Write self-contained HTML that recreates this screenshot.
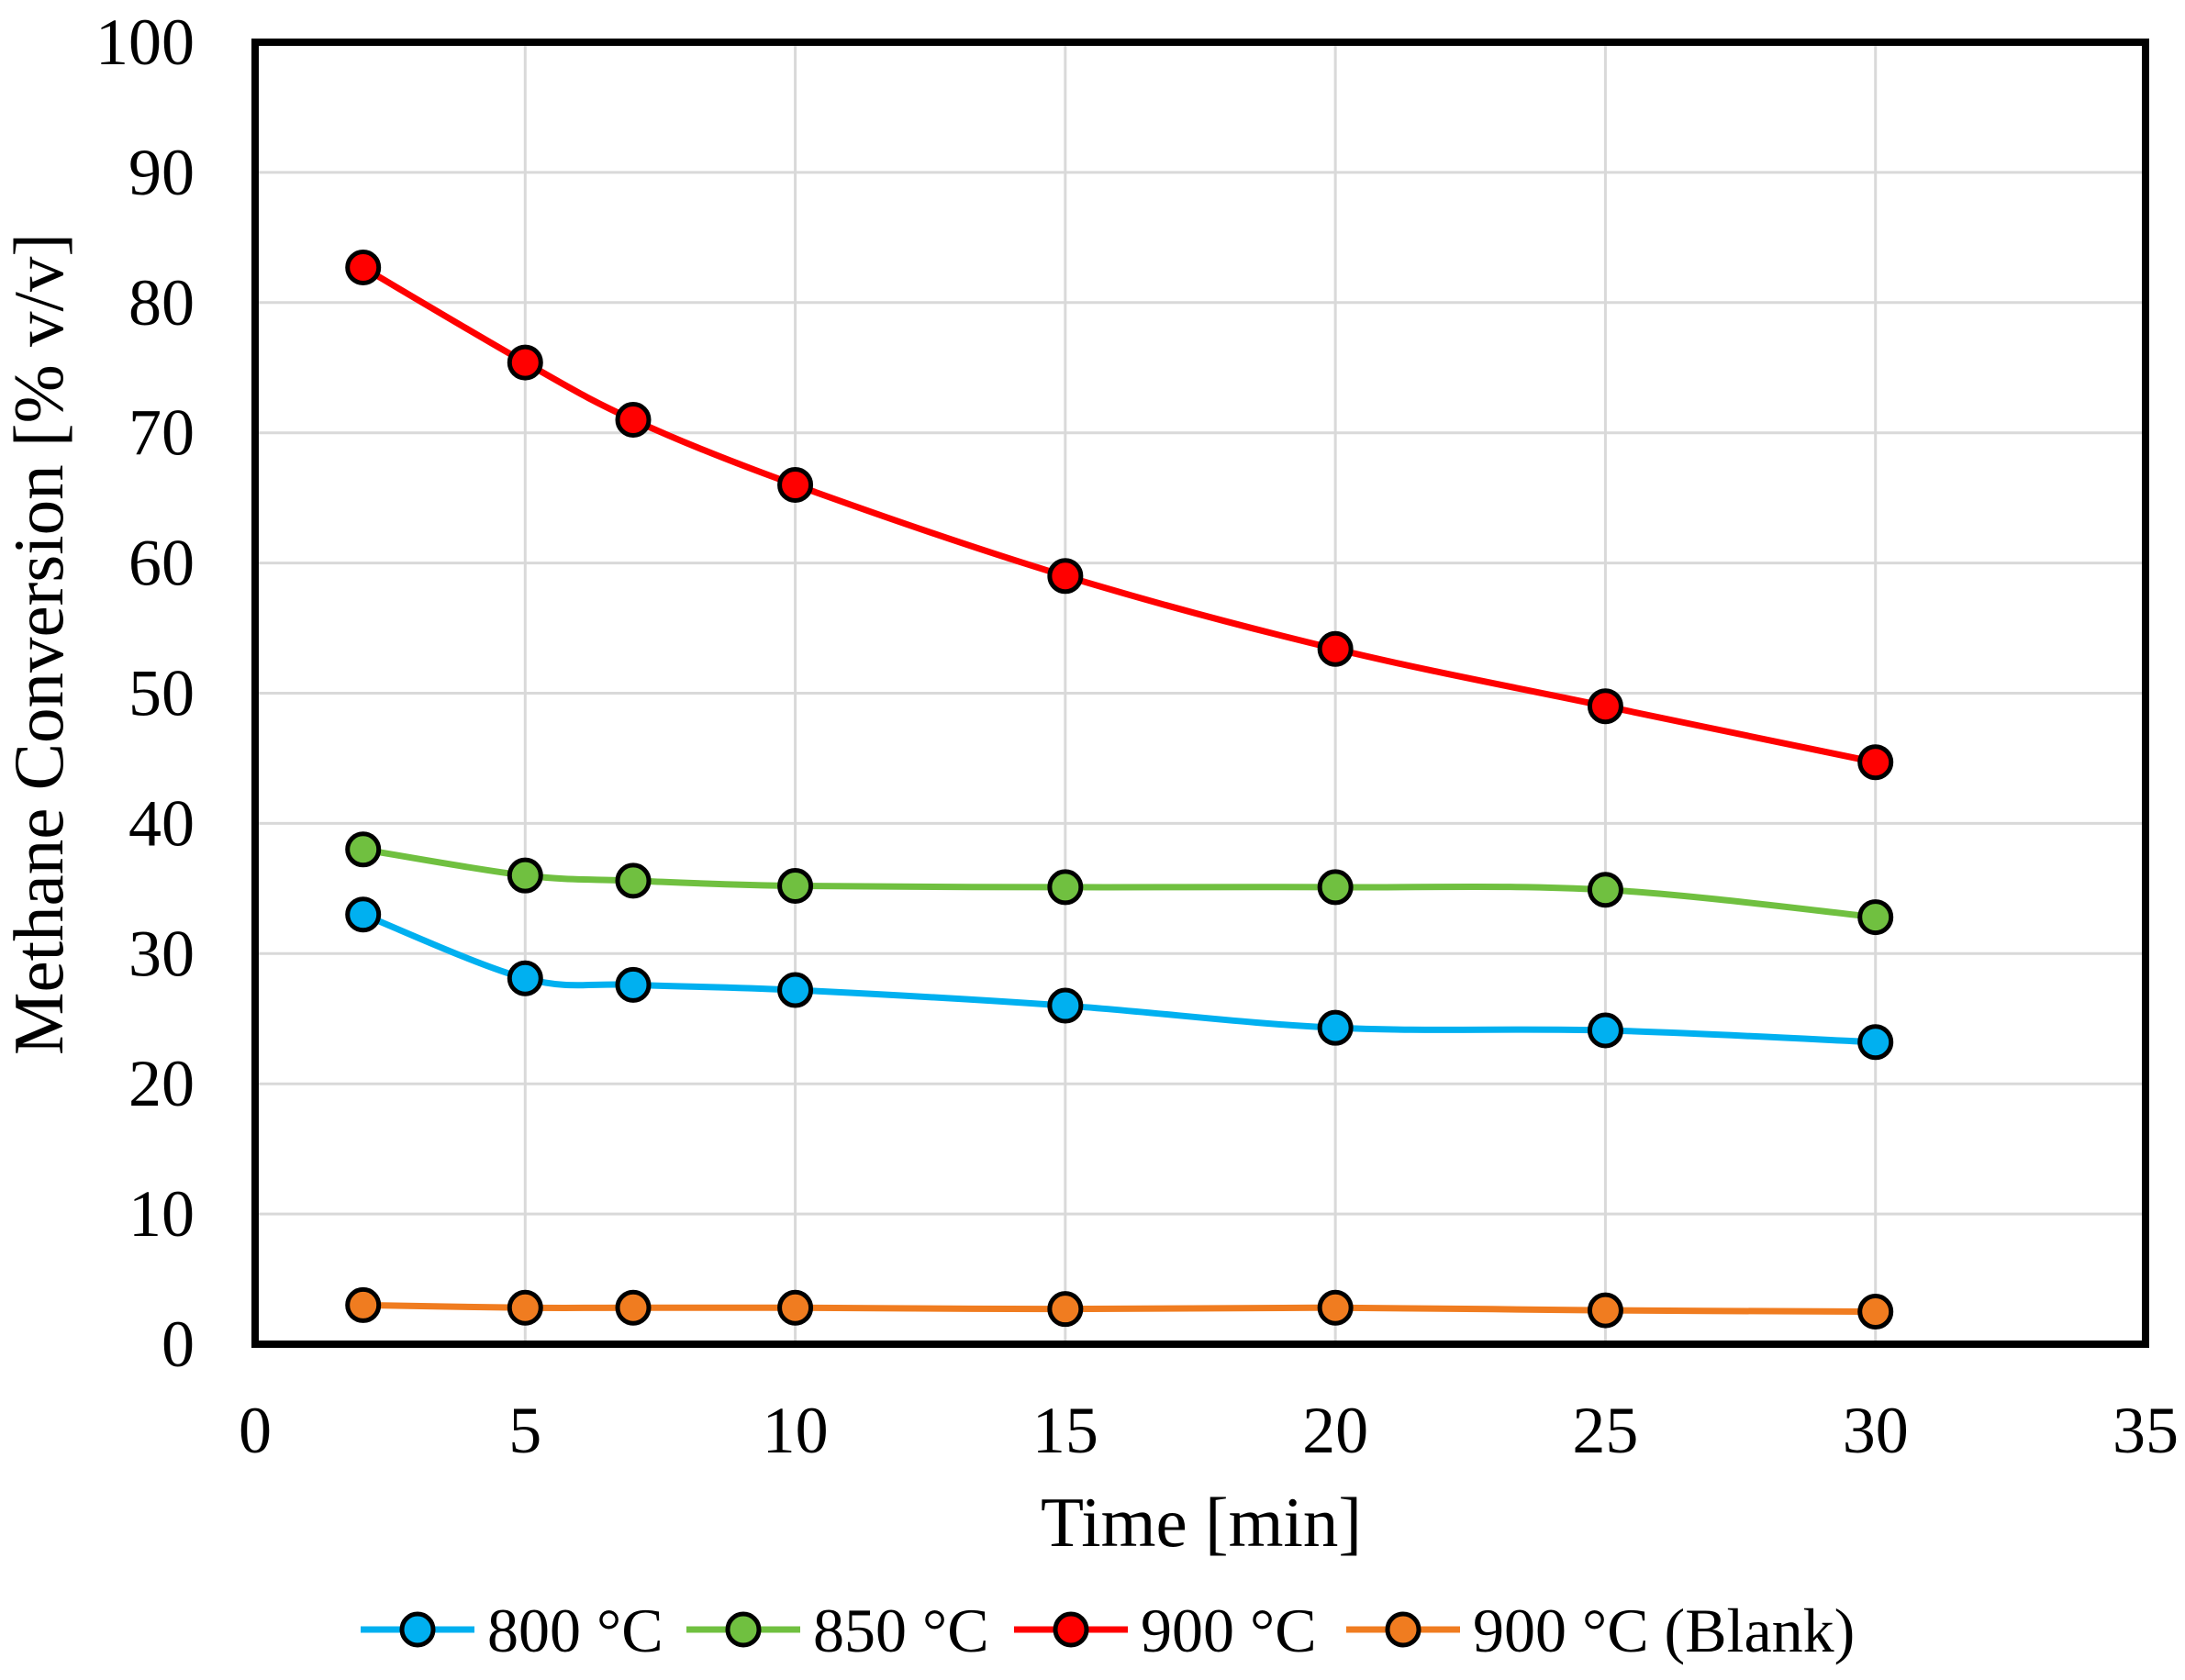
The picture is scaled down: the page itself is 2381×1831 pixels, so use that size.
<!DOCTYPE html>
<html><head><meta charset="utf-8"><style>
html,body{margin:0;padding:0;background:#fff;}
svg{display:block;font-family:"Liberation Serif",serif;}
</style></head><body>
<svg id="chart" width="2381" height="1831" viewBox="0 0 2381 1831" xmlns="http://www.w3.org/2000/svg">
<g id="grid"></g>
<g id="series"></g>
<rect x="278" y="46" width="2060" height="1419" fill="none" stroke="#000" stroke-width="8"/>
<g id="ticks" font-size="72" fill="#000"></g>
<text x="1309" y="1685" font-size="77" text-anchor="middle">Time [min]</text>
<text transform="translate(68,702) rotate(-90)" font-size="77" text-anchor="middle">Methane Conversion [% v/v]</text>
<g id="legend" font-size="68"></g>
</svg>
<script>
const times = [2,5,7,10,15,20,25,30];
const s800 = [33,28.1,27.6,27.2,26,24.3,24.1,23.2];
const s850 = [38,36,35.6,35.2,35.1,35.1,34.9,32.8];
const s900 = [82.7,75.4,71,66,59,53.4,49,44.7];
const sBlank = [3,2.8,2.8,2.8,2.7,2.8,2.6,2.5];
const seriesNames = ["800 °C","850 °C","900 °C","900 °C (Blank)"];
const xTicks = [0,5,10,15,20,25,30,35];
const yTicks = [0,10,20,30,40,50,60,70,80,90,100];

const NS="http://www.w3.org/2000/svg";
const L=278,R=2338,T=46,B=1465;
const xs=v=>L+(v-0)/(35-0)*(R-L);
const ys=v=>B-(v-0)/(100-0)*(B-T);
function mk(tag,attrs,parent){const e=document.createElementNS(NS,tag);for(const k in attrs)e.setAttribute(k,attrs[k]);parent.appendChild(e);return e;}
const grid=document.getElementById('grid'),ticks=document.getElementById('ticks'),ser=document.getElementById('series'),leg=document.getElementById('legend');
xTicks.forEach(t=>{
  if(t>0&&t<35){const g=mk('line',{x1:xs(t),x2:xs(t),y1:T,y2:B,stroke:'#d9d9d9','stroke-width':3},grid);
  
  }
  const tx=mk('text',{x:xs(t),y:1583,'text-anchor':'middle'},ticks);tx.textContent=t;
  
  
});
yTicks.forEach(t=>{
  if(t>0&&t<100){const g=mk('line',{x1:L,x2:R,y1:ys(t),y2:ys(t),stroke:'#d9d9d9','stroke-width':3},grid);
  
  }
  const tx=mk('text',{x:212,y:ys(t)+24,'text-anchor':'end'},ticks);tx.textContent=t;
  
  
});
function smooth(pts){let d=`M${pts[0][0]},${pts[0][1]}`;for(let i=0;i<pts.length-1;i++){const p0=pts[i-1]||pts[i],p1=pts[i],p2=pts[i+1],p3=pts[i+2]||p2;const t=0.5/3;
d+=` C${p1[0]+(p2[0]-p0[0])*t},${p1[1]+(p2[1]-p0[1])*t} ${p2[0]-(p3[0]-p1[0])*t},${p2[1]-(p3[1]-p1[1])*t} ${p2[0]},${p2[1]}`;}return d;}
const all=[[s800,'#00b0f0'],[s850,'#70c040'],[s900,'#ff0000'],[sBlank,'#f07c20']];
const names=['series-800c','series-850c','series-900c','series-900c-blank'];
all.forEach(([vals,c],si)=>{
  const pts=times.map((t,i)=>[xs(t),ys(vals[i])]);
  const p=mk('path',{d:smooth(pts),fill:'none',stroke:c,'stroke-width':7},ser);
  
  
  pts.forEach(q=>{const m=mk('circle',{cx:q[0],cy:q[1],r:17,fill:c,stroke:'#000','stroke-width':5},ser);
  
  });
});
const lx=[393,748,1105,1467];
all.forEach(([v,c],i)=>{
  const x=lx[i],y=1776;
  const g=mk('g',{},leg);
  
  
  mk('line',{x1:x,x2:x+124,y1:y,y2:y,stroke:c,'stroke-width':7},g);
  mk('circle',{cx:x+62,cy:y,r:17,fill:c,stroke:'#000','stroke-width':5},g);
  const t=mk('text',{x:x+138,y:y+24},g);t.textContent=seriesNames[i];
});
</script>
</body></html>
